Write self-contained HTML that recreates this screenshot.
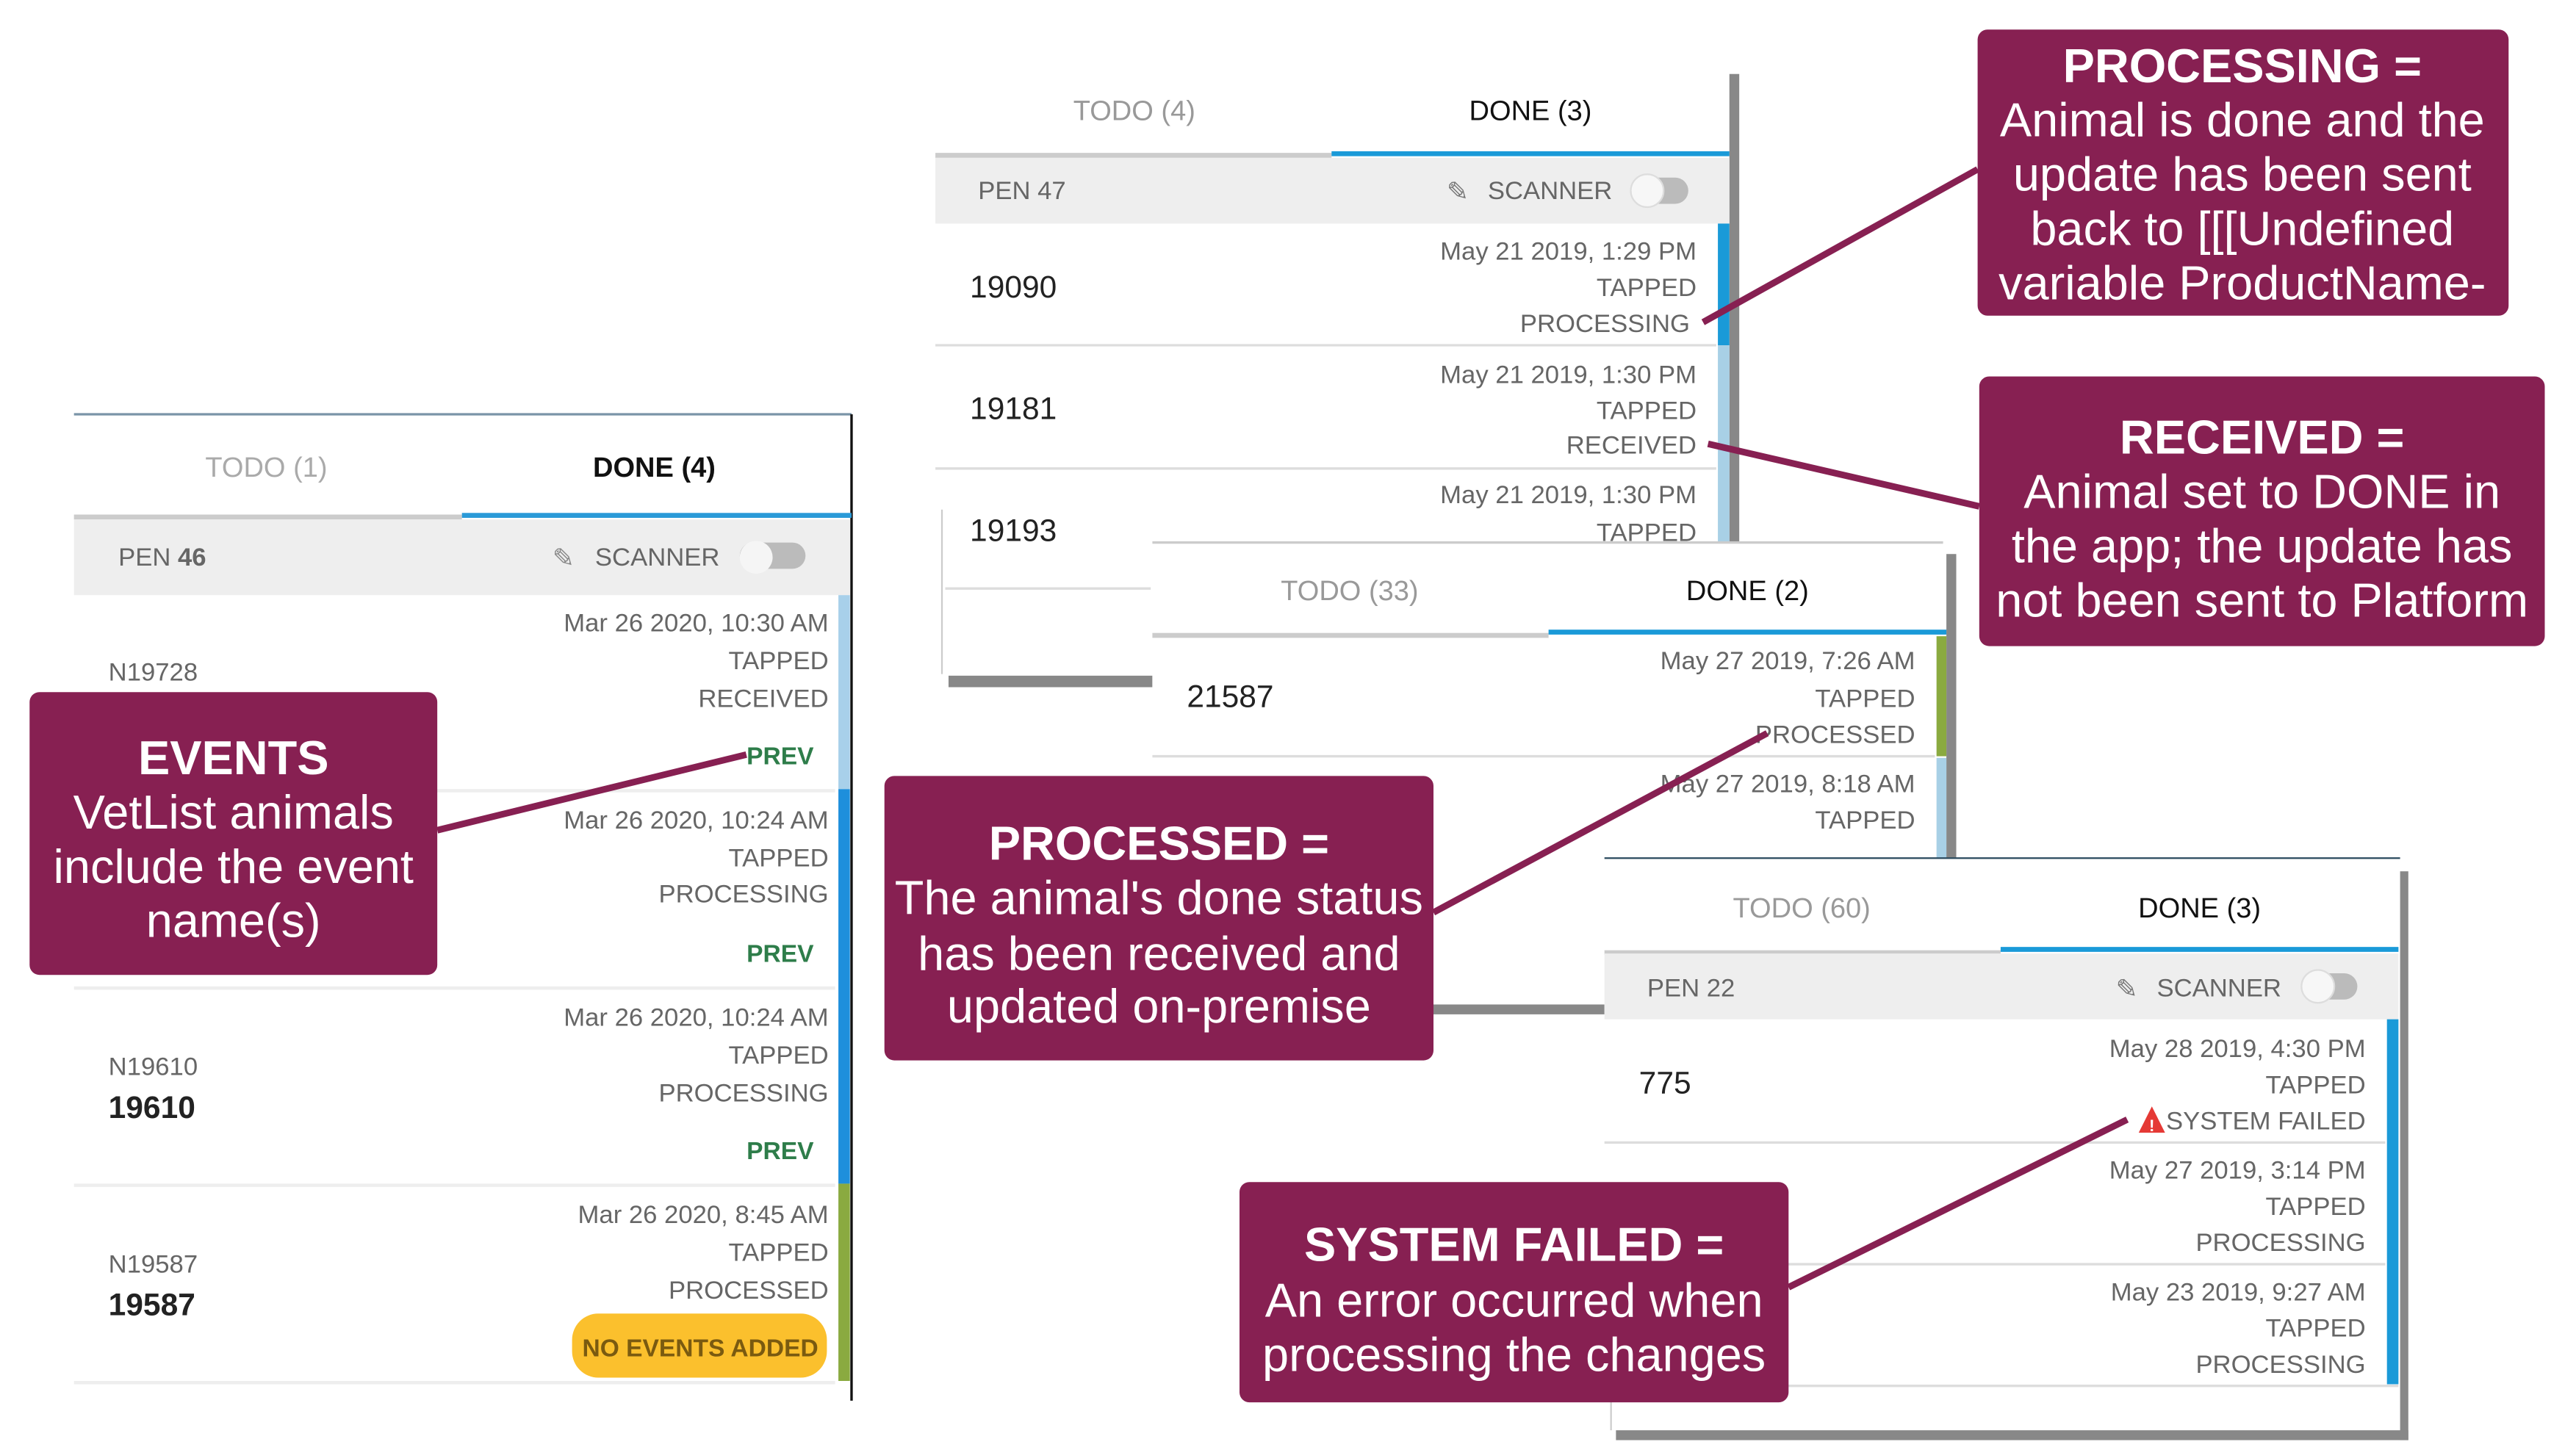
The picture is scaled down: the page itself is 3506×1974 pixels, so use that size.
<!DOCTYPE html>
<html><head><meta charset="utf-8"><style>
html,body{margin:0;padding:0;background:#fff;}
svg{display:block;}
text{font-family:"Liberation Sans",sans-serif;}
.g{fill:#666;font-size:15.5px;}
.n{fill:#222;font-size:19px;}
.b{fill:#fff;font-size:29px;text-anchor:middle;}
.bb{fill:#fff;font-size:29px;text-anchor:middle;font-weight:bold;}
.r{text-anchor:end;}
.tab{font-size:17px;text-anchor:middle;}
</style></head><body>
<svg width="3506" height="1974" viewBox="0 0 1567 882" preserveAspectRatio="none" xmlns="http://www.w3.org/2000/svg">
<rect width="1567" height="882" fill="#fff"/>

<!-- Panel A -->
<g>
<line x1="45" y1="252" x2="518" y2="252" stroke="#7a94a8" stroke-width="1.5"/>
<line x1="518" y1="252" x2="518" y2="852" stroke="#111" stroke-width="1.5"/>
<text x="162" y="290" class="tab" fill="#aaa">TODO (1)</text>
<text x="398" y="290" class="tab" fill="#111" font-weight="bold">DONE (4)</text>
<rect x="45" y="313" width="236" height="3" fill="#ccc"/>
<rect x="281" y="312" width="237" height="3" fill="#2a9ad8"/>
<rect x="45" y="316" width="472" height="46" fill="#eee"/>
<text x="72" y="344" class="g" fill="#555">PEN <tspan font-weight="bold">46</tspan></text>
<text x="336" y="345" font-size="16" fill="#888">✎</text>
<text x="362" y="344" class="g">SCANNER</text>
<rect x="450" y="330" width="40" height="16" rx="8" fill="#bbb"/>
<circle cx="460" cy="339" r="10" fill="#f5f5f5"/>
<rect x="510" y="362" width="7" height="118" fill="#a8d0ea"/>
<rect x="510" y="480" width="7" height="240" fill="#1e8fdc"/>
<rect x="510" y="720" width="7" height="120" fill="#8aaa40"/>
<line x1="45" y1="481" x2="508" y2="481" stroke="#eee" stroke-width="2"/>
<line x1="45" y1="601" x2="508" y2="601" stroke="#eee" stroke-width="2"/>
<line x1="45" y1="721" x2="508" y2="721" stroke="#eee" stroke-width="2"/>
<line x1="45" y1="841" x2="508" y2="841" stroke="#eee" stroke-width="2"/>
<text x="66" y="414" class="g" font-size="15">N19728</text>
<text x="504" y="384" class="g r">Mar 26 2020, 10:30 AM</text>
<text x="504" y="407" class="g r">TAPPED</text>
<text x="504" y="430" class="g r" fill="#888">RECEIVED</text>
<text x="495" y="465" class="r" font-size="15" font-weight="bold" fill="#2e7d4a">PREV</text>
<text x="504" y="504" class="g r">Mar 26 2020, 10:24 AM</text>
<text x="504" y="527" class="g r">TAPPED</text>
<text x="504" y="549" class="g r" fill="#888">PROCESSING</text>
<text x="495" y="585" class="r" font-size="15" font-weight="bold" fill="#2e7d4a">PREV</text>
<text x="66" y="654" class="g" font-size="15">N19610</text>
<text x="66" y="680" class="n" font-weight="bold" fill="#333">19610</text>
<text x="504" y="624" class="g r">Mar 26 2020, 10:24 AM</text>
<text x="504" y="647" class="g r">TAPPED</text>
<text x="504" y="670" class="g r" fill="#888">PROCESSING</text>
<text x="495" y="705" class="r" font-size="15" font-weight="bold" fill="#2e7d4a">PREV</text>
<text x="66" y="774" class="g" font-size="15">N19587</text>
<text x="66" y="800" class="n" font-weight="bold" fill="#333">19587</text>
<text x="504" y="744" class="g r">Mar 26 2020, 8:45 AM</text>
<text x="504" y="767" class="g r">TAPPED</text>
<text x="504" y="790" class="g r">PROCESSED</text>
<rect x="348" y="799" width="155" height="39" rx="16" fill="#fbc02d"/>
<text x="426" y="825" font-size="15" font-weight="bold" fill="#7a5a10" text-anchor="middle">NO EVENTS ADDED</text>
</g>

<!-- Panel B -->
<g>
<rect x="569" y="40" width="486" height="376" fill="#fff"/>
<rect x="1052" y="45" width="6" height="370" fill="#888"/>
<text x="690" y="73" class="tab" fill="#999">TODO (4)</text>
<text x="931" y="73" class="tab" fill="#111">DONE (3)</text>
<rect x="569" y="93" width="241" height="3" fill="#ccc"/>
<rect x="810" y="92" width="242" height="3" fill="#1a9ad8"/>
<rect x="569" y="96" width="483" height="40" fill="#eee"/>
<text x="595" y="121" class="g" fill="#333">PEN 47</text>
<text x="880" y="122" font-size="16" fill="#777">✎</text>
<text x="905" y="121" class="g" fill="#444">SCANNER</text>
<rect x="995" y="108" width="32" height="16" rx="8" fill="#bbb"/>
<circle cx="1002" cy="116" r="10" fill="#f7f7f7" stroke="#ddd"/>
<rect x="1045" y="136" width="7" height="74" fill="#1a9ad8"/>
<rect x="1045" y="210" width="7" height="120" fill="#a8d0e6"/>
<line x1="569" y1="210" x2="1044" y2="210" stroke="#ddd" stroke-width="1.5"/>
<line x1="569" y1="285" x2="1044" y2="285" stroke="#ddd" stroke-width="1.5"/>
<line x1="575" y1="358" x2="700" y2="358" stroke="#ddd" stroke-width="1.5"/>
<line x1="573" y1="310" x2="573" y2="410" stroke="#ccc" stroke-width="1"/>
<rect x="577" y="411" width="124" height="7" fill="#888"/>
<text x="590" y="181" class="n">19090</text>
<text x="1032" y="158" class="g r">May 21 2019, 1:29 PM</text>
<text x="1032" y="180" class="g r">TAPPED</text>
<text x="1028" y="202" class="g r" fill="#777">PROCESSING</text>
<text x="590" y="255" class="n">19181</text>
<text x="1032" y="233" class="g r">May 21 2019, 1:30 PM</text>
<text x="1032" y="255" class="g r">TAPPED</text>
<text x="1032" y="276" class="g r" fill="#777">RECEIVED</text>
<text x="590" y="329" class="n">19193</text>
<text x="1032" y="306" class="g r">May 21 2019, 1:30 PM</text>
<text x="1032" y="329" class="g r">TAPPED</text>
</g>

<!-- Panel C -->
<g>
<rect x="701" y="330" width="484" height="195" fill="#fff"/>
<line x1="701" y1="330" x2="1182" y2="330" stroke="#ccc" stroke-width="1.5"/>
<rect x="1184" y="337" width="6" height="185" fill="#888"/>
<text x="821" y="365" class="tab" fill="#999">TODO (33)</text>
<text x="1063" y="365" class="tab" fill="#111">DONE (2)</text>
<rect x="701" y="385" width="241" height="3" fill="#ccc"/>
<rect x="942" y="383" width="242" height="3" fill="#1a9ad8"/>
<rect x="1178" y="387" width="6" height="73" fill="#8aaa40"/>
<rect x="1178" y="461" width="6" height="61" fill="#a8d0e6"/>
<line x1="701" y1="460" x2="1177" y2="460" stroke="#ddd" stroke-width="1.5"/>
<text x="722" y="430" class="n">21587</text>
<text x="1165" y="407" class="g r">May 27 2019, 7:26 AM</text>
<text x="1165" y="430" class="g r">TAPPED</text>
<text x="1165" y="452" class="g r" fill="#555">PROCESSED</text>
<text x="1165" y="482" class="g r">May 27 2019, 8:18 AM</text>
<text x="1165" y="504" class="g r">TAPPED</text>
<rect x="872" y="611" width="105" height="6" fill="#888"/>
</g>

<!-- Panel D -->
<g>
<rect x="976" y="522" width="486" height="350" fill="#fff"/>
<line x1="976" y1="522" x2="1460" y2="522" stroke="#2a4a5e" stroke-width="1"/>
<rect x="1460" y="530" width="5" height="346" fill="#888"/>
<rect x="983" y="870" width="482" height="6" fill="#888"/>
<line x1="980" y1="840" x2="980" y2="870" stroke="#ccc"/>
<text x="1096" y="558" class="tab" fill="#999">TODO (60)</text>
<text x="1338" y="558" class="tab" fill="#111">DONE (3)</text>
<rect x="976" y="578" width="241" height="3" fill="#ccc"/>
<rect x="1217" y="576" width="242" height="3" fill="#1a9ad8"/>
<rect x="976" y="580" width="483" height="40" fill="#eee"/>
<text x="1002" y="606" class="g" fill="#333">PEN 22</text>
<text x="1287" y="607" font-size="16" fill="#777">✎</text>
<text x="1312" y="606" class="g" fill="#444">SCANNER</text>
<rect x="1402" y="592" width="32" height="16" rx="8" fill="#bbb"/>
<circle cx="1410" cy="600" r="10" fill="#f7f7f7" stroke="#ddd"/>
<rect x="1452" y="620" width="7" height="222" fill="#1a9ad8"/>
<line x1="976" y1="695" x2="1451" y2="695" stroke="#ddd" stroke-width="1.5"/>
<line x1="976" y1="769" x2="1451" y2="769" stroke="#ddd" stroke-width="1.5"/>
<line x1="976" y1="843" x2="1459" y2="843" stroke="#ddd" stroke-width="1.5"/>
<text x="997" y="665" class="n">775</text>
<text x="1439" y="643" class="g r">May 28 2019, 4:30 PM</text>
<text x="1439" y="665" class="g r">TAPPED</text>
<path d="M1309 673 L1317 689 L1301 689 Z" fill="#e53935"/>
<text x="1309" y="688" font-size="10" fill="#fff" text-anchor="middle" font-weight="bold">!</text>
<text x="1439" y="687" class="g r" fill="#444">SYSTEM FAILED</text>
<text x="1439" y="717" class="g r">May 27 2019, 3:14 PM</text>
<text x="1439" y="739" class="g r">TAPPED</text>
<text x="1439" y="761" class="g r" fill="#888">PROCESSING</text>
<text x="1439" y="791" class="g r">May 23 2019, 9:27 AM</text>
<text x="1439" y="813" class="g r">TAPPED</text>
<text x="1439" y="835" class="g r" fill="#888">PROCESSING</text>
</g>

<!-- Connectors -->
<g stroke="#872052" stroke-width="4" fill="none">
<line x1="266" y1="505" x2="454" y2="459"/>
<line x1="1203" y1="103" x2="1036" y2="196"/>
<line x1="1204" y1="308" x2="1039" y2="270"/>
<line x1="872" y1="555" x2="1075" y2="446"/>
<line x1="1088" y1="783" x2="1294" y2="681"/>
</g>

<!-- Callout boxes -->
<g fill="#872052">
<rect x="18" y="421" width="248" height="172" rx="6"/>
<rect x="1203" y="18" width="323" height="174" rx="6"/>
<rect x="1204" y="229" width="344" height="164" rx="6"/>
<rect x="538" y="472" width="334" height="173" rx="6"/>
<rect x="754" y="719" width="334" height="134" rx="6"/>
</g>
<text x="142" y="471" class="bb">EVENTS</text>
<text x="142" y="504" class="b">VetList animals</text>
<text x="142" y="537" class="b">include the event</text>
<text x="142" y="570" class="b">name(s)</text>

<text x="1364" y="50" class="bb">PROCESSING =</text>
<text x="1364" y="83" class="b">Animal is done and the</text>
<text x="1364" y="116" class="b">update has been sent</text>
<text x="1364" y="149" class="b">back to [[[Undefined</text>
<text x="1364" y="182" class="b">variable ProductName-</text>

<text x="1376" y="276" class="bb">RECEIVED =</text>
<text x="1376" y="309" class="b">Animal set to DONE in</text>
<text x="1376" y="342" class="b">the app; the update has</text>
<text x="1376" y="375" class="b">not been sent to Platform</text>

<text x="705" y="523" class="bb">PROCESSED =</text>
<text x="705" y="556" class="b">The animal's done status</text>
<text x="705" y="590" class="b">has been received and</text>
<text x="705" y="622" class="b">updated on-premise</text>

<text x="921" y="767" class="bb">SYSTEM FAILED =</text>
<text x="921" y="801" class="b">An error occurred when</text>
<text x="921" y="834" class="b">processing the changes</text>
</svg>
</body></html>
